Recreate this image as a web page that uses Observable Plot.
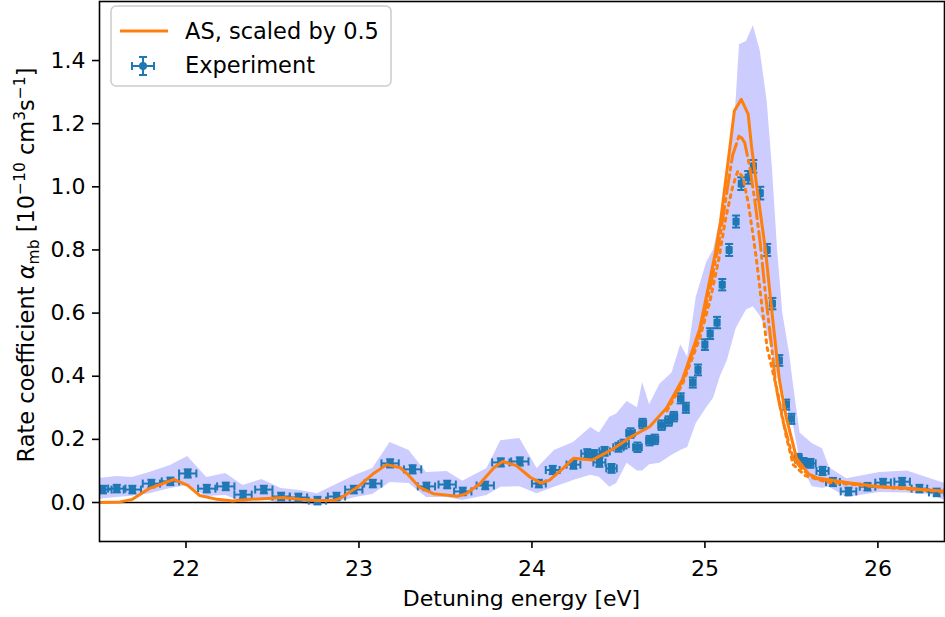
<!DOCTYPE html>
<html><head><meta charset="utf-8">
<script src="https://cdn.jsdelivr.net/npm/d3@7"></script>
<script src="https://cdn.jsdelivr.net/npm/@observablehq/plot@0.6"></script>
<style>body{margin:0;background:#fff;} #chart{width:945px;height:617px;}</style>
</head><body><div id="chart"></div>
<script>
// ---- data ----
const xTicks = [22, 23, 24, 25, 26];
const yTicks = [0, 0.2, 0.4, 0.6, 0.8, 1.0, 1.2, 1.4];
const xLabel = "Detuning energy [eV]";
const legendLabels = ["AS, scaled by 0.5", "Experiment"];

// AS, scaled by 0.5 (solid): [energy eV, rate]
const asCurve = [[21.50,0.000],[21.62,0.002],[21.69,0.010],[21.79,0.045],[21.93,0.073],[22.01,0.054],[22.08,0.022],[22.18,0.010],[22.27,0.005],[22.37,0.010],[22.47,0.013],[22.56,0.016],[22.66,0.010],[22.76,0.006],[22.85,0.006],[22.89,0.013],[22.99,0.048],[23.08,0.090],[23.16,0.120],[23.24,0.110],[23.28,0.090],[23.35,0.048],[23.43,0.028],[23.57,0.020],[23.62,0.028],[23.70,0.060],[23.78,0.110],[23.83,0.130],[23.91,0.117],[23.99,0.080],[24.05,0.062],[24.10,0.070],[24.18,0.108],[24.24,0.140],[24.35,0.135],[24.47,0.170],[24.57,0.207],[24.68,0.240],[24.78,0.300],[24.87,0.390],[24.97,0.550],[25.03,0.710],[25.06,0.790],[25.09,0.890],[25.12,1.020],[25.15,1.150],[25.17,1.240],[25.21,1.277],[25.25,1.230],[25.27,1.125],[25.30,1.000],[25.33,0.880],[25.35,0.800],[25.39,0.590],[25.43,0.390],[25.47,0.270],[25.53,0.140],[25.60,0.090],[25.65,0.078],[25.84,0.062],[26.01,0.050],[26.20,0.044],[26.39,0.035]];
// second theory curve (dash-dot)
const curveB = [[24.78,0.300],[24.87,0.385],[24.97,0.540],[25.03,0.680],[25.08,0.820],[25.12,0.960],[25.16,1.100],[25.20,1.165],[25.23,1.140],[25.26,1.060],[25.29,0.950],[25.32,0.820],[25.35,0.660],[25.38,0.520],[25.41,0.370],[25.45,0.260],[25.51,0.140],[25.57,0.100],[25.65,0.075],[25.84,0.060],[26.01,0.050],[26.20,0.043],[26.39,0.035]];
// third theory curve (dotted)
const curveC = [[24.78,0.290],[24.87,0.375],[24.97,0.520],[25.03,0.640],[25.08,0.770],[25.12,0.900],[25.16,1.000],[25.19,1.050],[25.22,1.030],[25.25,0.950],[25.28,0.840],[25.30,0.760],[25.33,0.620],[25.36,0.490],[25.42,0.350],[25.47,0.210],[25.51,0.120],[25.58,0.085],[25.70,0.065],[25.84,0.058],[26.01,0.049],[26.20,0.042],[26.39,0.034]];
// uncertainty band: [energy, lower, upper]
const band = [[21.50,0.010,0.076],[21.60,0.016,0.082],[21.69,0.020,0.079],[21.79,0.028,0.095],[21.91,0.044,0.117],[22.01,0.054,0.146],[22.12,0.019,0.079],[22.23,0.022,0.092],[22.33,0.000,0.054],[22.44,0.010,0.073],[22.55,-0.003,0.044],[22.66,-0.003,0.038],[22.76,-0.010,0.028],[22.87,0.000,0.057],[22.98,0.016,0.086],[23.08,0.025,0.108],[23.18,0.063,0.190],[23.29,0.060,0.165],[23.39,0.016,0.095],[23.51,0.016,0.098],[23.60,0.006,0.067],[23.74,0.022,0.108],[23.82,0.048,0.196],[23.93,0.050,0.203],[24.03,0.028,0.108],[24.13,0.048,0.165],[24.24,0.070,0.190],[24.34,0.086,0.238],[24.39,0.080,0.220],[24.45,0.048,0.270],[24.49,0.060,0.280],[24.55,0.124,0.320],[24.61,0.100,0.300],[24.64,0.100,0.380],[24.68,0.120,0.310],[24.74,0.124,0.375],[24.81,0.150,0.410],[24.86,0.165,0.500],[24.90,0.174,0.460],[24.95,0.250,0.650],[25.01,0.300,0.760],[25.05,0.330,0.800],[25.09,0.400,0.900],[25.13,0.450,1.010],[25.18,0.550,1.270],[25.20,0.570,1.450],[25.24,0.610,1.460],[25.28,0.620,1.510],[25.32,0.590,1.430],[25.36,0.540,1.270],[25.39,0.470,1.060],[25.42,0.400,0.800],[25.45,0.360,0.600],[25.49,0.270,0.470],[25.51,0.250,0.380],[25.55,0.130,0.220],[25.62,0.050,0.187],[25.68,0.045,0.170],[25.72,0.048,0.110],[25.82,0.016,0.075],[26.01,0.032,0.095],[26.17,0.030,0.100],[26.30,0.025,0.076],[26.39,0.006,0.060]];
// experiment: [energy, rate, yerr, xerr]
const experiment = [[21.52,0.041,0.012,0.05],[21.60,0.044,0.012,0.05],[21.69,0.041,0.012,0.05],[21.80,0.060,0.012,0.05],[21.91,0.067,0.012,0.05],[22.01,0.092,0.013,0.05],[22.12,0.044,0.012,0.05],[22.23,0.051,0.012,0.05],[22.33,0.025,0.012,0.05],[22.45,0.041,0.012,0.05],[22.55,0.019,0.012,0.05],[22.65,0.016,0.012,0.05],[22.76,0.006,0.012,0.05],[22.87,0.019,0.012,0.05],[22.97,0.041,0.012,0.05],[23.08,0.060,0.012,0.05],[23.18,0.124,0.013,0.05],[23.31,0.105,0.013,0.05],[23.39,0.051,0.012,0.05],[23.51,0.057,0.012,0.05],[23.60,0.035,0.012,0.05],[23.73,0.054,0.012,0.05],[23.82,0.127,0.013,0.05],[23.93,0.130,0.013,0.05],[24.04,0.060,0.012,0.04],[24.12,0.103,0.013,0.04],[24.24,0.120,0.013,0.04],[24.32,0.155,0.014,0.035],[24.36,0.152,0.014,0.035],[24.39,0.127,0.014,0.035],[24.42,0.162,0.014,0.03],[24.46,0.108,0.014,0.03],[24.50,0.175,0.014,0.03],[24.53,0.185,0.014,0.03],[24.57,0.220,0.015,0.025],[24.61,0.175,0.015,0.025],[24.64,0.250,0.015,0.02],[24.68,0.196,0.015,0.02],[24.71,0.200,0.015,0.02],[24.75,0.245,0.015,0.02],[24.79,0.258,0.015,0.02],[24.82,0.272,0.015,0.02],[24.86,0.330,0.016,0.015],[24.89,0.300,0.016,0.015],[24.93,0.380,0.016,0.015],[24.96,0.420,0.017,0.012],[25.00,0.500,0.017,0.012],[25.03,0.535,0.017,0.012],[25.07,0.570,0.018,0.012],[25.10,0.690,0.018,0.01],[25.14,0.800,0.019,0.01],[25.18,0.890,0.019,0.01],[25.21,1.010,0.020,0.01],[25.25,1.030,0.020,0.01],[25.28,1.065,0.020,0.01],[25.32,0.980,0.020,0.01],[25.36,0.800,0.019,0.01],[25.39,0.630,0.018,0.01],[25.43,0.450,0.017,0.012],[25.47,0.310,0.016,0.015],[25.50,0.265,0.016,0.015],[25.54,0.140,0.014,0.02],[25.57,0.127,0.014,0.025],[25.61,0.124,0.014,0.03],[25.68,0.100,0.013,0.035],[25.74,0.065,0.013,0.04],[25.83,0.035,0.012,0.045],[25.94,0.050,0.012,0.045],[26.03,0.063,0.012,0.045],[26.14,0.066,0.012,0.045],[26.24,0.044,0.012,0.045],[26.34,0.032,0.012,0.045]];

// ---- styles ----
const BLUE = "#1f77b4", ORANGE = "#ff7f0e", BAND = "#ccccff";
const FONT = "DejaVu Sans, sans-serif";

const expRows = experiment.map(([e, r, dy, dx]) => ({e, r, lo: r - dy, hi: r + dy, left: e - dx, right: e + dx}));
const capH = {draw(ctx) { ctx.moveTo(-4, 0); ctx.lineTo(4, 0); }};
const capV = {draw(ctx) { ctx.moveTo(0, -4); ctx.lineTo(0, 4); }};
const px = d => d[0], py = d => d[1];

const plot = Plot.plot({
  width: 945, height: 617,
  marginLeft: 99, marginRight: 1, marginTop: 1, marginBottom: 76,
  style: {fontFamily: FONT, fontSize: "22px", color: "black", background: "white"},
  x: {domain: [21.5, 26.385]},
  y: {domain: [-0.1235, 1.587]},
  marks: [
    Plot.areaY(band, {x: px, y1: d => d[1], y2: d => d[2], fill: BAND, clip: true}),
    Plot.ruleY([0], {stroke: "black", strokeWidth: 1.6}),
    Plot.ruleX(expRows, {x: "e", y1: "lo", y2: "hi", stroke: BLUE, strokeWidth: 2, clip: true}),
    Plot.link(expRows, {x1: "left", x2: "right", y1: "r", y2: "r", stroke: BLUE, strokeWidth: 2, clip: true}),
    Plot.dot(expRows, {x: "e", y: "hi", symbol: capH, stroke: BLUE, strokeWidth: 2, r: 4, clip: true}),
    Plot.dot(expRows, {x: "e", y: "lo", symbol: capH, stroke: BLUE, strokeWidth: 2, r: 4, clip: true}),
    Plot.dot(expRows, {x: "left", y: "r", symbol: capV, stroke: BLUE, strokeWidth: 2, r: 4, clip: true}),
    Plot.dot(expRows, {x: "right", y: "r", symbol: capV, stroke: BLUE, strokeWidth: 2, r: 4, clip: true}),
    Plot.dot(expRows, {x: "e", y: "r", symbol: "square", fill: BLUE, r: 4, clip: true}),
    Plot.line(curveC, {x: px, y: py, stroke: ORANGE, strokeWidth: 3, strokeDasharray: "3,5", clip: true}),
    Plot.line(curveB, {x: px, y: py, stroke: ORANGE, strokeWidth: 3, strokeDasharray: "19,5,3,5", clip: true}),
    Plot.line(asCurve, {x: px, y: py, stroke: ORANGE, strokeWidth: 3, clip: true}),
    Plot.axisX({ticks: xTicks, tickSize: 7, tickPadding: 12, strokeWidth: 1.6, label: null, tickFormat: d3.format("d")}),
    Plot.axisY({ticks: yTicks, tickSize: 7, tickPadding: 7, strokeWidth: 1.6, label: null, tickFormat: d3.format(".1f")}),
    Plot.frame({stroke: "black", strokeWidth: 1.6})
  ]
});
document.getElementById("chart").appendChild(plot);

const svg = d3.select(plot);
// x label
svg.append("text").attr("x", 521.5).attr("y", 606).attr("text-anchor", "middle")
  .attr("font-family", FONT).attr("font-size", 22).attr("fill", "black").text(xLabel);
// y label with sub/superscripts
const yl = svg.append("text").attr("transform", "translate(34,265) rotate(-90)")
  .attr("text-anchor", "middle").attr("font-family", FONT).attr("font-size", 22.5).attr("fill", "black");
yl.append("tspan").text("Rate coefficient ");
yl.append("tspan").attr("font-style", "italic").text("α");
yl.append("tspan").attr("font-size", 15.5).attr("dy", 5).text("mb");
yl.append("tspan").attr("dy", -5).text(" [10");
yl.append("tspan").attr("font-size", 15.5).attr("dy", -9).text("−10");
yl.append("tspan").attr("dy", 9).text(" cm");
yl.append("tspan").attr("font-size", 15.5).attr("dy", -9).text("3");
yl.append("tspan").attr("dy", 9).text("s");
yl.append("tspan").attr("font-size", 15.5).attr("dy", -9).text("−1");
yl.append("tspan").attr("dy", 9).text("]");

// legend
const lg = svg.append("g");
lg.append("rect").attr("x", 111).attr("y", 6).attr("width", 280).attr("height", 80).attr("rx", 5)
  .attr("fill", "white").attr("fill-opacity", 0.8).attr("stroke", "#cccccc").attr("stroke-width", 1.5);
lg.append("line").attr("x1", 120).attr("x2", 168).attr("y1", 31).attr("y2", 31)
  .attr("stroke", ORANGE).attr("stroke-width", 3);
lg.append("text").attr("x", 185).attr("y", 39).attr("text-anchor", "start").attr("font-family", FONT).attr("font-size", 22.5).attr("fill", "black").text(legendLabels[0]);
const mx = 143, my = 66;
lg.append("line").attr("x1", mx).attr("x2", mx).attr("y1", my - 9).attr("y2", my + 9).attr("stroke", BLUE).attr("stroke-width", 2);
lg.append("line").attr("x1", mx - 11).attr("x2", mx + 11).attr("y1", my).attr("y2", my).attr("stroke", BLUE).attr("stroke-width", 2);
lg.append("line").attr("x1", mx - 4).attr("x2", mx + 4).attr("y1", my - 9).attr("y2", my - 9).attr("stroke", BLUE).attr("stroke-width", 2);
lg.append("line").attr("x1", mx - 4).attr("x2", mx + 4).attr("y1", my + 9).attr("y2", my + 9).attr("stroke", BLUE).attr("stroke-width", 2);
lg.append("line").attr("x1", mx - 11).attr("x2", mx - 11).attr("y1", my - 4).attr("y2", my + 4).attr("stroke", BLUE).attr("stroke-width", 2);
lg.append("line").attr("x1", mx + 11).attr("x2", mx + 11).attr("y1", my - 4).attr("y2", my + 4).attr("stroke", BLUE).attr("stroke-width", 2);
lg.append("circle").attr("cx", mx).attr("cy", my).attr("r", 4).attr("fill", BLUE);
lg.append("text").attr("x", 185).attr("y", 73).attr("text-anchor", "start").attr("font-family", FONT).attr("font-size", 22.5).attr("fill", "black").text(legendLabels[1]);
</script></body></html>
